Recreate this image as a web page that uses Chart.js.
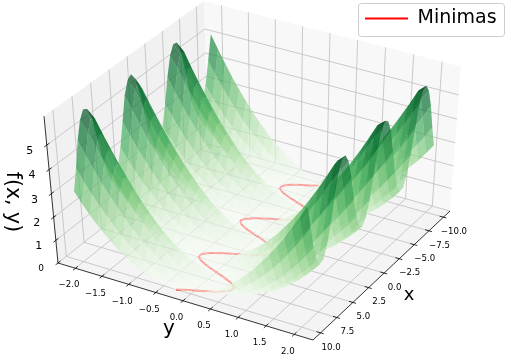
<!DOCTYPE html>
<html>
<head>
<meta charset="utf-8">
<style>html,body{margin:0;padding:0;background:#fff}canvas{display:block}</style>
<script src="https://cdn.jsdelivr.net/npm/chart.js@4/dist/chart.umd.js"></script>
</head>
<body>
<canvas id="c" width="506" height="356"></canvas>
<script>
// ---- data ----
const xValues = [-10,-9.5,-9,-8.5,-8,-7.5,-7,-6.5,-6,-5.5,-5,-4.5,-4,-3.5,-3,-2.5,-2,-1.5,-1,-.5,0,.5,1,1.5,2,2.5,3,3.5,4,4.5,5,5.5,6,6.5,7,7.5,8,8.5,9,9.5,10];
const yValues = [-2.07,-1.94,-1.81,-1.68,-1.55,-1.42,-1.29,-1.16,-1.03,-.905,-.776,-.647,-.517,-.388,-.259,-.129,0,.129,.259,.388,.517,.647,.776,.905,1.03,1.16,1.29,1.42,1.55,1.68,1.81,1.94,2.07];
// heights at the even entries of yValues
const surfaceZ = [
 [5.16,4.09,3.14,2.32,1.62,1.04,.60,.27,.07,0,.05,.23,.53,.96,1.51,2.18,2.99],
 [4.15,3.20,2.37,1.66,1.08,.62,.29,.08,0,.04,.21,.51,.93,1.47,2.14,2.93,3.85],
 [3.22,2.38,1.67,1.09,.63,.30,.09,0,.04,.21,.50,.91,1.45,2.12,2.91,3.83,4.87],
 [2.56,1.83,1.21,.72,.36,.12,.01,.02,.16,.42,.81,1.32,1.96,2.72,3.61,4.62,5.58],
 [2.27,1.58,1.01,.57,.26,.07,0,.06,.25,.56,.99,1.55,2.24,3.05,3.98,5.04,5.89],
 [2.34,1.64,1.06,.61,.28,.08,0,.05,.22,.52,.94,1.49,2.16,2.95,3.88,4.92,5.80],
 [2.80,2.02,1.37,.85,.45,.18,.03,.01,.11,.33,.69,1.16,1.76,2.49,3.34,4.32,5.35],
 [3.58,2.70,1.94,1.30,.80,.41,.15,.02,.01,.13,.37,.74,1.23,1.84,2.59,3.45,4.44],
 [4.58,3.57,2.69,1.93,1.30,.79,.41,.15,.02,.01,.13,.37,.74,1.23,1.85,2.59,3.46],
 [5.43,4.42,3.43,2.57,1.83,1.22,.73,.36,.12,.01,.02,.16,.42,.80,1.32,1.95,2.71],
 [5.84,4.97,3.92,2.99,2.19,1.51,.96,.53,.23,.05,0,.07,.27,.59,1.04,1.62,2.31],
 [5.87,5.01,3.96,3.02,2.22,1.54,.98,.55,.24,.06,0,.07,.26,.58,1.02,1.59,2.28],
 [5.50,4.53,3.53,2.65,1.90,1.27,.77,.39,.14,.02,.01,.14,.39,.76,1.26,1.88,2.63],
 [4.73,3.71,2.81,2.03,1.38,.86,.46,.18,.03,.01,.11,.33,.68,1.16,1.76,2.48,3.33],
 [3.72,2.82,2.04,1.39,.86,.46,.18,.03,.01,.10,.33,.67,1.15,1.75,2.47,3.32,4.29],
 [2.89,2.11,1.44,.90,.49,.20,.04,0,.09,.30,.64,1.10,1.69,2.40,3.24,4.20,5.26],
 [2.39,1.68,1.09,.63,.30,.09,0,.04,.21,.50,.91,1.45,2.12,2.91,3.82,4.86,5.76],
 [2.25,1.57,1.00,.56,.25,.06,0,.06,.25,.56,1.00,1.56,2.25,3.06,4.00,5.06,5.90],
 [2.49,1.77,1.16,.69,.34,.11,.01,.03,.18,.45,.85,1.37,2.02,2.79,3.69,4.71,5.64],
 [3.10,2.28,1.59,1.02,.58,.26,.07,0,.06,.24,.55,.98,1.54,2.22,3.03,3.96,5.02],
 [4,3.06,2.25,1.56,1,.56,.25,.06,0,.06,.25,.56,1,1.56,2.25,3.06,4],
 [5.02,3.96,3.03,2.22,1.54,.98,.55,.24,.06,0,.07,.26,.58,1.02,1.59,2.28,3.10],
 [5.64,4.71,3.69,2.79,2.02,1.37,.85,.45,.18,.03,.01,.11,.34,.69,1.16,1.77,2.49],
 [5.90,5.06,4.00,3.06,2.25,1.56,1.00,.56,.25,.06,0,.06,.25,.56,1.00,1.57,2.25],
 [5.76,4.86,3.82,2.91,2.12,1.45,.91,.50,.21,.04,0,.09,.30,.63,1.09,1.68,2.39],
 [5.26,4.20,3.24,2.40,1.69,1.10,.64,.30,.09,0,.04,.20,.49,.90,1.44,2.11,2.89],
 [4.29,3.32,2.47,1.75,1.15,.67,.33,.10,.01,.03,.18,.46,.86,1.39,2.04,2.82,3.72],
 [3.33,2.48,1.76,1.16,.68,.33,.11,.01,.03,.18,.46,.86,1.38,2.03,2.81,3.71,4.73],
 [2.63,1.88,1.26,.76,.39,.14,.01,.02,.14,.39,.77,1.27,1.90,2.65,3.53,4.53,5.50],
 [2.28,1.59,1.02,.58,.26,.07,0,.06,.24,.55,.98,1.54,2.22,3.02,3.96,5.01,5.87],
 [2.31,1.62,1.04,.59,.27,.07,0,.05,.23,.53,.96,1.51,2.19,2.99,3.92,4.97,5.84],
 [2.71,1.95,1.32,.80,.42,.16,.02,.01,.12,.36,.73,1.22,1.83,2.57,3.43,4.42,5.43],
 [3.46,2.59,1.85,1.23,.74,.37,.13,.01,.02,.15,.41,.79,1.30,1.93,2.69,3.57,4.58],
 [4.44,3.45,2.59,1.84,1.23,.74,.37,.13,.01,.02,.15,.41,.80,1.30,1.94,2.70,3.58],
 [5.35,4.32,3.34,2.49,1.76,1.16,.69,.33,.11,.01,.03,.18,.45,.85,1.37,2.02,2.80],
 [5.80,4.92,3.88,2.95,2.16,1.49,.94,.52,.22,.05,0,.08,.28,.61,1.06,1.64,2.34],
 [5.89,5.04,3.98,3.05,2.24,1.55,.99,.56,.25,.06,0,.07,.26,.57,1.01,1.58,2.27],
 [5.58,4.62,3.61,2.72,1.96,1.32,.81,.42,.16,.02,.01,.12,.36,.72,1.21,1.83,2.56],
 [4.87,3.83,2.91,2.12,1.45,.91,.50,.21,.04,0,.09,.30,.63,1.09,1.67,2.38,3.22],
 [3.85,2.93,2.14,1.47,.93,.51,.21,.04,0,.08,.29,.62,1.08,1.66,2.37,3.20,4.15],
 [2.99,2.18,1.51,.96,.53,.23,.05,0,.07,.27,.60,1.04,1.62,2.32,3.14,4.09,5.16]
];
// heights at the odd entries of yValues
const surfaceZMid = [
 [4.61,3.60,2.71,1.95,1.32,.81,.42,.16,.02,.01,.13,.36,.73,1.22,1.83,2.57],
 [3.66,2.77,2.00,1.35,.83,.44,.17,.03,.01,.11,.34,.70,1.18,1.79,2.52,3.37],
 [2.79,2.01,1.37,.84,.45,.18,.03,.01,.11,.34,.69,1.17,1.77,2.50,3.35,4.33],
 [2.18,1.50,.95,.53,.23,.05,0,.08,.27,.60,1.05,1.62,2.32,3.15,4.10,5.17],
 [1.91,1.28,.78,.40,.15,.02,.02,.14,.39,.76,1.26,1.88,2.63,3.50,4.50,5.62],
 [1.98,1.34,.82,.43,.17,.02,.01,.12,.35,.71,1.20,1.81,2.54,3.40,4.39,5.50],
 [2.39,1.68,1.10,.64,.30,.09,0,.04,.21,.50,.91,1.45,2.11,2.90,3.82,4.85],
 [3.12,2.30,1.61,1.04,.59,.27,.07,0,.06,.23,.54,.97,1.52,2.20,3.00,3.93],
 [4.06,3.12,2.30,1.60,1.03,.59,.27,.07,0,.06,.24,.54,.97,1.53,2.21,3.01],
 [4.97,3.91,2.99,2.19,1.51,.96,.53,.23,.05,0,.08,.27,.60,1.05,1.62,2.32],
 [5.54,4.43,3.44,2.57,1.83,1.22,.73,.36,.13,.01,.02,.16,.42,.80,1.31,1.95],
 [5.59,4.47,3.48,2.61,1.86,1.24,.75,.38,.13,.01,.02,.15,.41,.79,1.29,1.92],
 [5.08,4.01,3.07,2.26,1.57,1.01,.57,.25,.06,0,.06,.25,.56,.99,1.56,2.24],
 [4.20,3.24,2.40,1.69,1.10,.64,.30,.09,0,.04,.20,.49,.90,1.44,2.10,2.89],
 [3.26,2.42,1.70,1.11,.65,.31,.09,0,.04,.20,.49,.90,1.43,2.09,2.88,3.79],
 [2.48,1.76,1.16,.68,.33,.11,.01,.03,.18,.45,.85,1.38,2.03,2.80,3.70,4.73],
 [2.02,1.37,.85,.45,.18,.03,.01,.11,.34,.69,1.17,1.77,2.50,3.35,4.33,5.43],
 [1.89,1.27,.77,.39,.14,.02,.02,.14,.39,.76,1.26,1.89,2.64,3.51,4.51,5.64],
 [2.11,1.45,.91,.50,.21,.04,0,.09,.30,.63,1.09,1.68,2.39,3.23,4.19,5.27],
 [2.67,1.92,1.29,.78,.40,.15,.02,.01,.13,.38,.75,1.24,1.86,2.61,3.48,4.47],
 [3.52,2.64,1.89,1.27,.77,.39,.14,.02,.02,.14,.39,.77,1.27,1.89,2.64,3.52],
 [4.47,3.48,2.61,1.86,1.24,.75,.38,.13,.01,.02,.15,.40,.78,1.29,1.92,2.67],
 [5.27,4.19,3.23,2.39,1.68,1.09,.63,.30,.09,0,.04,.21,.50,.91,1.45,2.11],
 [5.64,4.51,3.51,2.64,1.89,1.26,.76,.39,.14,.02,.02,.14,.39,.77,1.27,1.89],
 [5.43,4.33,3.35,2.50,1.77,1.17,.69,.34,.11,.01,.03,.18,.45,.85,1.37,2.02],
 [4.73,3.70,2.80,2.03,1.38,.85,.45,.18,.03,.01,.11,.33,.68,1.16,1.76,2.48],
 [3.79,2.88,2.09,1.43,.90,.49,.20,.04,0,.09,.31,.65,1.11,1.70,2.42,3.26],
 [2.89,2.10,1.44,.90,.49,.20,.04,0,.09,.30,.64,1.10,1.69,2.40,3.24,4.20],
 [2.24,1.56,.99,.56,.25,.06,0,.06,.25,.57,1.01,1.57,2.26,3.07,4.01,5.08],
 [1.92,1.29,.79,.41,.15,.02,.01,.13,.38,.75,1.24,1.86,2.61,3.48,4.47,5.59],
 [1.95,1.31,.80,.42,.16,.02,.01,.13,.36,.73,1.22,1.83,2.57,3.44,4.43,5.54],
 [2.32,1.62,1.05,.60,.27,.08,0,.05,.23,.53,.96,1.51,2.19,2.99,3.91,4.97],
 [3.01,2.21,1.53,.97,.54,.24,.06,0,.07,.27,.59,1.03,1.60,2.30,3.12,4.06],
 [3.93,3.00,2.20,1.52,.97,.54,.23,.06,0,.07,.27,.59,1.04,1.61,2.30,3.12],
 [4.85,3.82,2.90,2.11,1.45,.91,.50,.21,.04,0,.09,.30,.64,1.10,1.68,2.39],
 [5.50,4.39,3.40,2.54,1.81,1.20,.71,.35,.12,.01,.02,.17,.43,.82,1.34,1.98],
 [5.62,4.50,3.50,2.63,1.88,1.26,.76,.39,.14,.02,.02,.15,.40,.78,1.28,1.91],
 [5.17,4.10,3.15,2.32,1.62,1.05,.60,.27,.08,0,.05,.23,.53,.95,1.50,2.18],
 [4.33,3.35,2.50,1.77,1.17,.69,.34,.11,.01,.03,.18,.45,.84,1.37,2.01,2.79],
 [3.37,2.52,1.79,1.18,.70,.34,.11,.01,.03,.17,.44,.83,1.35,2.00,2.77,3.66],
 [2.57,1.83,1.22,.73,.36,.13,.01,.02,.16,.42,.81,1.32,1.95,2.71,3.60,4.61]
];
const minimaX = [10,9.5,9,8.5,8,7.5,7,6.5,6,5.5,5,4.5,4,3.5,3,2.5,2,1.5,1,.5,0,-.5,-1,-1.5,-2,-2.5,-3,-3.5,-4,-4.5,-5,-5.5,-6,-6.5,-7,-7.5,-8,-8.5,-9,-9.5,-10];
const minimaY = [-.27,-.04,.21,.40,.49,.47,.33,.11,-.14,-.35,-.48,-.49,-.38,-.18,.07,.30,.45,.50,.42,.24,0,-.24,-.42,-.50,-.45,-.30,-.07,.18,.38,.49,.48,.35,.14,-.11,-.33,-.47,-.49,-.40,-.21,.04,.27];
const xTicks = [-10,-7.5,-5,-2.5,0,2.5,5,7.5,10];
const xTickLabels = ['\u221210.0','\u22127.5','\u22125.0','\u22122.5','0.0','2.5','5.0','7.5','10.0'];
const yTicks = [-2,-1.5,-1,-0.5,0,0.5,1,1.5,2];
const yTickLabels = ['\u22122.0','\u22121.5','\u22121.0','\u22120.5','0.0','0.5','1.0','1.5','2.0'];
const zTicks = [0,1,2,3,4,5];
const zTickLabels = ['0','1','2','3','4','5'];
const zTickSizes = [9,11,11,11,11,11];
const seriesName = 'Minimas';

// ---- view: axis limits and the image of the box corners ----
const xLim = 11.15, yLim = 2.33, zLim = 6.15, zNorm = 5.9;
const K={x:208,y:144}, L={x:58,y:263}, R={x:450,y:211}, B={x:313,y:340};
const Ktop={x:204,y:1}, Ltop={x:44,y:120};
const den=(L.x-B.x)*(R.y-B.y)-(R.x-B.x)*(L.y-B.y);
const sx=K.x-L.x+B.x-R.x, sy=K.y-L.y+B.y-R.y;
const g=(sx*(R.y-B.y)-(R.x-B.x)*sy)/den, h=((L.x-B.x)*sy-sx*(L.y-B.y))/den;
const a=L.x-K.x+g*L.x, b=R.x-K.x+h*R.x, c=K.x, d=L.y-K.y+g*L.y, e=R.y-K.y+h*R.y, f=K.y;
const q3=(Ltop.x*(g+1)-a-Ktop.x)/(Ktop.x-Ltop.x);
const q1=Ktop.x*(1+q3)-c, q2=Ktop.y*(1+q3)-f;
function proj(u,v,w){
  const n=g*u+h*v+1+q3*w;
  return {x:(a*u+b*v+c+q1*w)/n, y:(d*u+e*v+f+q2*w)/n, depth:n};
}
const uOf=x=>(x+xLim)/(2*xLim), vOf=y=>(y+yLim)/(2*yLim), wOf=z=>z/zLim;
const at=(x,y,z)=>proj(uOf(x),vOf(y),wOf(z));

const stops=[[247,252,245],[229,245,224],[199,233,192],[161,217,155],[116,196,118],[65,171,93],[35,139,69],[0,109,44],[0,68,27]];
function greens(t,alpha){
  t=Math.max(0,Math.min(1,t))*8; const i=Math.min(7,Math.floor(t)), k=t-i;
  const m=[0,1,2].map(j=>Math.round(stops[i][j]+(stops[i+1][j]-stops[i][j])*k));
  return `rgba(${m[0]},${m[1]},${m[2]},${alpha})`;
}
const strip=p=>({x:p.x,y:p.y});
const shape=(pts,color)=>({data:pts.map(strip),fill:'shape',backgroundColor:color,borderWidth:0,pointRadius:0,clip:false});
const seg=(p,q,color,w)=>({data:[strip(p),strip(q)],fill:false,borderColor:color,borderWidth:w,pointRadius:0,clip:false});

const back=[];
// panes
back.push(shape([proj(1,0,0),proj(0,0,0),proj(0,0,1),proj(1,0,1)],'rgb(241,241,241)'));
back.push(shape([proj(0,0,0),proj(0,1,0),proj(0,1,1),proj(0,0,1)],'rgb(248,248,248)'));
back.push(shape([proj(0,0,0),proj(1,0,0),proj(1,1,0),proj(0,1,0)],'rgb(244,244,244)'));
// grid
const gridColor='rgb(190,190,190)';
xTicks.forEach(t=>{const u=uOf(t);
  back.push(seg(proj(u,1,0),proj(u,0,0),gridColor,.8)); back.push(seg(proj(u,0,0),proj(u,0,1),gridColor,.8));});
yTicks.forEach(t=>{const v=vOf(t);
  back.push(seg(proj(1,v,0),proj(0,v,0),gridColor,.8)); back.push(seg(proj(0,v,0),proj(0,v,1),gridColor,.8));});
zTicks.forEach(t=>{const w=wOf(t);
  back.push(seg(proj(1,0,w),proj(0,0,w),gridColor,.8)); back.push(seg(proj(0,0,w),proj(0,1,w),gridColor,.8));});
// axes and tick marks
back.push(seg(proj(1,0,0),proj(1,1,0),'#000',.8));
back.push(seg(proj(1,1,0),proj(0,1,0),'#000',.8));
back.push(seg(proj(1,0,0),proj(1,0,1),'#000',.8));
xTicks.forEach(t=>back.push(seg(proj(uOf(t),.985,0),proj(uOf(t),1.012,0),'#000',.8)));
yTicks.forEach(t=>back.push(seg(proj(.985,vOf(t),0),proj(1.015,vOf(t),0),'#000',.8)));
zTicks.forEach(t=>back.push(seg(proj(.985,0,wOf(t)),proj(1.015,0,wOf(t)),'#000',.8)));
// minima curve
back.push({label:seriesName,data:minimaX.map((x,i)=>strip(at(x,minimaY[i],0))),fill:false,borderColor:'#ff0000',backgroundColor:'#ff0000',borderWidth:2,pointRadius:0,tension:.3,clip:false});
// surface facets, far to near
const heightAt=(i,j)=>j%2===0?surfaceZ[i][j/2]:surfaceZMid[i][(j-1)/2];
const quads=[];
for(let i=0;i<xValues.length-1;i++)for(let j=0;j<yValues.length-1;j++){
  const zs=[heightAt(i,j),heightAt(i+1,j),heightAt(i+1,j+1),heightAt(i,j+1)];
  const pts=[at(xValues[i],yValues[j],zs[0]),at(xValues[i+1],yValues[j],zs[1]),at(xValues[i+1],yValues[j+1],zs[2]),at(xValues[i],yValues[j+1],zs[3])];
  quads.push({pts,depth:pts.reduce((s,p)=>s+p.depth,0)/4,z:zs.reduce((s,v)=>s+v,0)/4});
}
quads.sort((p,q)=>q.depth-p.depth);
quads.forEach(q=>back.push(shape(q.pts,greens(q.z/zNorm,.7))));
const datasets=back.reverse(); // Chart.js paints the first dataset last

const textPlugin={
  id:'axisText',
  afterLayout(chart){
    const lg=chart.legend; lg.left=359; lg.right=504; lg.top=3; lg.bottom=36;
  },
  afterDraw(chart){
    const ctx=chart.ctx; ctx.save();
    ctx.fillStyle='#000'; ctx.textAlign='center'; ctx.textBaseline='middle';
    ctx.font='8.6px "DejaVu Sans"';
    const X=chart.scales.x, Y=chart.scales.y;
    xTicks.forEach((t,i)=>{const p=proj(uOf(t),1,0);ctx.fillText(xTickLabels[i],X.getPixelForValue(p.x)+10.5,Y.getPixelForValue(p.y)+14.5);});
    yTicks.forEach((t,i)=>{const p=proj(1,vOf(t),0);ctx.fillText(yTickLabels[i],X.getPixelForValue(p.x)-6.5,Y.getPixelForValue(p.y)+17);});
    zTicks.forEach((t,i)=>{const p=proj(1,0,wOf(t));ctx.font=zTickSizes[i]+'px "DejaVu Sans"';ctx.fillText(zTickLabels[i],X.getPixelForValue(p.x)-17,Y.getPixelForValue(p.y)+6);});
    ctx.font='18px "DejaVu Sans"'; ctx.fillText('x',409,295);
    ctx.font='20px "DejaVu Sans"'; ctx.fillText('y',169,329);
    ctx.translate(12,202); ctx.rotate(Math.PI/2); ctx.font='20.5px "DejaVu Sans"'; ctx.fillText('f(x, y)',0,0);
    ctx.restore();
    ctx.save(); ctx.strokeStyle='rgb(204,204,204)'; ctx.lineWidth=1;
    ctx.beginPath(); ctx.roundRect(358.5,3.5,146,33,3); ctx.stroke(); ctx.restore();
  }
};

new Chart(document.getElementById('c'),{
  type:'line',
  data:{datasets},
  plugins:[textPlugin],
  options:{
    responsive:false,animation:false,
    layout:{padding:0},
    scales:{
      x:{type:'linear',min:0,max:506,display:false},
      y:{type:'linear',min:0,max:356,reverse:true,display:false}
    },
    plugins:{
      tooltip:{enabled:false},
      legend:{
        position:'chartArea',align:'start',
        labels:{
          generateLabels:()=>[{text:seriesName,fillStyle:'#ff0000',strokeStyle:'#ff0000',lineWidth:0,hidden:false,datasetIndex:0}],
          boxWidth:43,boxHeight:2,color:'#000',padding:6,
          font:{family:'"DejaVu Sans"',size:19}
        }
      }
    }
  }
});
</script>
</body>
</html>
